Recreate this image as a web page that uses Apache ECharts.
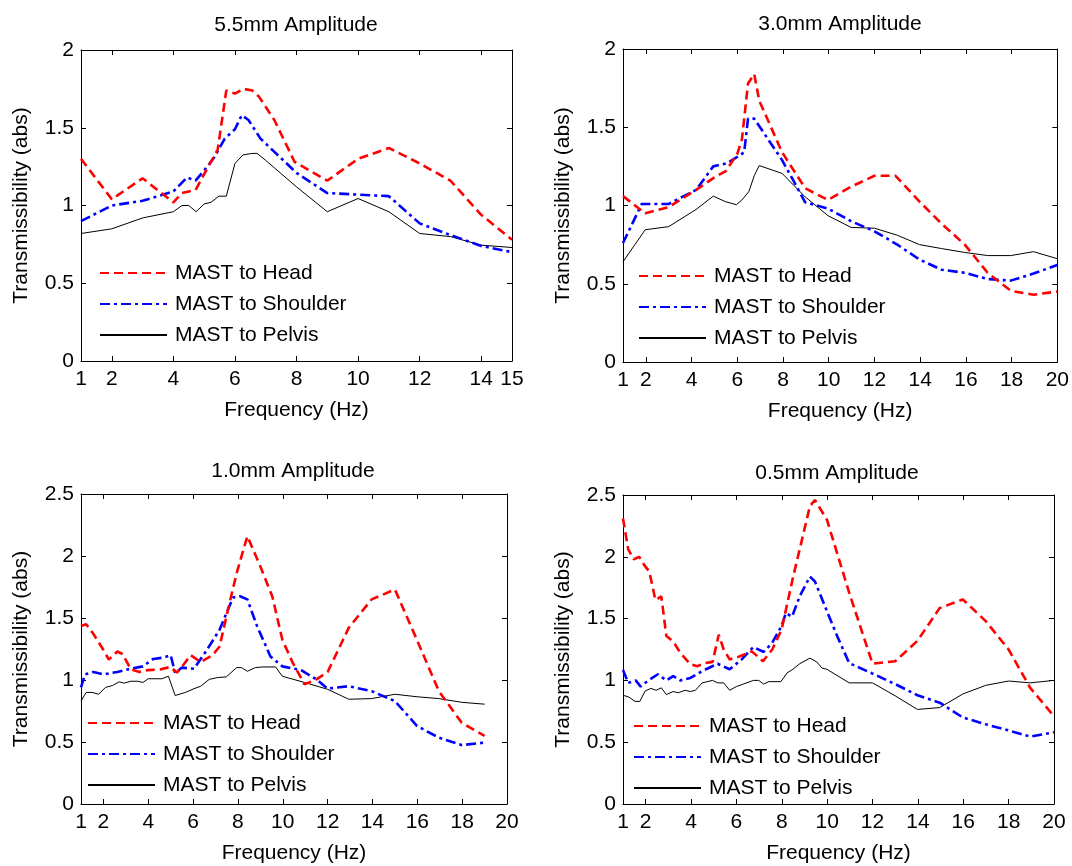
<!DOCTYPE html>
<html><head><meta charset="utf-8">
<script src="https://cdn.jsdelivr.net/npm/echarts@6/dist/echarts.min.js"></script>
<style>html,body{margin:0;padding:0;background:#fff}#c{width:1072px;height:866px}</style>
</head><body><div id="c"></div>
<script>
const seriesNames = ['MAST to Head', 'MAST to Shoulder', 'MAST to Pelvis'];
const panelTitles = ['5.5mm Amplitude', '3.0mm Amplitude', '1.0mm Amplitude', '0.5mm Amplitude'];
const xAxisName = 'Frequency (Hz)';
const yAxisName = 'Transmissibility (abs)';
const xTicks15 = [1, 2, 4, 6, 8, 10, 12, 14, 15];
const xTicks20 = [1, 2, 4, 6, 8, 10, 12, 14, 16, 18, 20];
const xMax = [15, 20, 20, 20];
const yMax = [2, 2, 2.5, 2.5];

// 5.5 mm amplitude  [frequency Hz, transmissibility]
const head55 = [[1,1.30],[2,1.04],[3,1.175],[4,1.02],[4.28,1.08],[4.72,1.10],[5.44,1.36],[5.72,1.74],[6,1.72],[6.28,1.75],[6.56,1.74],[6.78,1.70],[7.28,1.55],[7.94,1.28],[9,1.16],[10,1.30],[11,1.37],[12,1.27],[13,1.16],[14,0.94],[15,0.78]];
const shoulder55 = [[1,0.90],[2,1.00],[3,1.03],[4,1.09],[4.44,1.18],[4.72,1.16],[5.06,1.24],[5.33,1.31],[5.67,1.43],[6,1.49],[6.22,1.58],[6.44,1.55],[6.83,1.43],[8,1.21],[9,1.08],[10,1.07],[11,1.06],[12,0.885],[13,0.81],[14,0.74],[15,0.70]];
const pelvis55 = [[1,0.82],[2,0.85],[3,0.92],[4,0.96],[4.28,1.00],[4.5,1.00],[4.74,0.96],[5,1.01],[5.22,1.02],[5.48,1.06],[5.72,1.06],[6,1.27],[6.26,1.325],[6.56,1.335],[6.72,1.335],[7,1.29],[8,1.12],[9,0.96],[10,1.045],[11,0.96],[12,0.82],[13,0.80],[14,0.745],[15,0.73]];

// 3.0 mm amplitude
const head30 = [[1,1.06],[1.97,0.95],[3,0.99],[4.2,1.10],[5,1.18],[5.5,1.22],[6,1.33],[6.2,1.42],[6.47,1.78],[6.74,1.84],[6.96,1.67],[7.96,1.34],[8.97,1.11],[9.97,1.035],[10.98,1.12],[12,1.19],[12.92,1.19],[13.97,1.025],[14.93,0.885],[15.95,0.75],[16.95,0.57],[17.96,0.455],[18.96,0.43],[20,0.45]];
const shoulder30 = [[1,0.76],[1.82,1.01],[3,1.01],[4.2,1.10],[4.95,1.25],[5.55,1.27],[6,1.31],[6.3,1.34],[6.47,1.555],[6.74,1.555],[7.96,1.29],[8.45,1.16],[8.97,1.02],[9.97,0.98],[10.98,0.90],[12,0.835],[13,0.75],[13.97,0.655],[14.93,0.59],[15.95,0.57],[16.95,0.53],[17.96,0.52],[18.96,0.565],[20,0.62]];
const pelvis30 = [[1,0.64],[1.52,0.75],[1.97,0.845],[3,0.865],[4.2,0.975],[4.95,1.06],[5.47,1.025],[5.96,1.005],[6.2,1.035],[6.51,1.09],[6.74,1.19],[6.96,1.255],[7.96,1.205],[8.97,1.055],[9.97,0.935],[10.98,0.86],[12,0.855],[13,0.81],[13.97,0.75],[14.93,0.725],[15.95,0.70],[16.95,0.68],[17.96,0.68],[18.96,0.705],[20,0.66]];

// 1.0 mm amplitude
const head10 = [[1,1.435],[1.23,1.45],[1.56,1.37],[1.94,1.26],[2.24,1.165],[2.62,1.23],[2.85,1.21],[3.23,1.085],[3.61,1.065],[4,1.08],[4.52,1.085],[4.98,1.105],[5.28,1.06],[5.58,1.125],[5.89,1.20],[6.34,1.145],[6.87,1.20],[7.18,1.27],[7.56,1.57],[7.94,1.86],[8.42,2.16],[9,1.915],[9.53,1.675],[9.98,1.325],[10.44,1.14],[10.97,0.965],[11.5,1.005],[12,1.065],[12.94,1.42],[13.96,1.65],[15,1.73],[15.98,1.325],[16.96,0.91],[17.98,0.655],[19,0.55]];
const shoulder10 = [[1,0.94],[1.18,1.045],[1.56,1.065],[2.02,1.045],[2.62,1.065],[3.08,1.085],[3.76,1.11],[4.22,1.17],[4.67,1.18],[5,1.20],[5.2,1.055],[5.5,1.10],[6.04,1.09],[6.57,1.23],[7.18,1.405],[7.78,1.665],[8.09,1.675],[8.42,1.65],[8.85,1.435],[9.45,1.19],[9.98,1.11],[10.82,1.08],[11.5,1.005],[12,0.93],[12.94,0.95],[13.96,0.91],[15,0.83],[15.98,0.63],[16.96,0.535],[17.98,0.475],[19,0.495]];
const pelvis10 = [[1,0.83],[1.23,0.90],[1.49,0.90],[1.79,0.885],[2.09,0.94],[2.4,0.955],[2.7,0.985],[2.93,0.975],[3.23,0.99],[3.53,0.99],[3.76,0.98],[4,1.01],[4.6,1.01],[4.9,1.03],[5.2,0.875],[5.66,0.90],[6.04,0.93],[6.34,0.95],[6.72,1.005],[7.1,1.02],[7.48,1.025],[7.94,1.10],[8.16,1.10],[8.42,1.07],[8.77,1.10],[9.07,1.105],[9.68,1.105],[9.98,1.03],[10.97,0.98],[12,0.925],[12.94,0.845],[13.96,0.85],[15,0.885],[15.98,0.865],[16.96,0.85],[17.98,0.82],[19,0.805]];

// 0.5 mm amplitude
const head05 = [[1,2.31],[1.23,2.06],[1.48,1.98],[1.71,2.0],[1.93,1.935],[2.16,1.88],[2.43,1.65],[2.69,1.68],[2.91,1.36],[3.21,1.315],[3.52,1.225],[3.97,1.13],[4.27,1.115],[4.64,1.14],[4.95,1.15],[5.22,1.37],[5.44,1.25],[5.7,1.17],[6.08,1.19],[6.68,1.235],[7.17,1.155],[7.58,1.25],[7.99,1.41],[8.49,1.83],[9.24,2.41],[9.46,2.46],[9.99,2.30],[10.97,1.71],[12,1.135],[13,1.155],[13.98,1.32],[14.96,1.585],[15.98,1.655],[16.99,1.48],[18,1.25],[18.95,0.94],[20,0.71]];
const shoulder05 = [[1,1.085],[1.23,0.98],[1.56,1.0],[1.78,0.95],[2.08,0.995],[2.54,1.05],[2.91,1.0],[3.21,1.035],[3.52,1.0],[3.97,1.02],[4.49,1.075],[5.17,1.135],[5.7,1.09],[6.23,1.17],[6.75,1.27],[7.2,1.23],[7.58,1.305],[7.99,1.44],[8.18,1.545],[8.45,1.515],[8.79,1.68],[9.24,1.84],[9.46,1.80],[9.99,1.56],[10.44,1.36],[10.97,1.14],[12,1.055],[13,0.97],[13.98,0.88],[14.96,0.82],[15.98,0.70],[16.99,0.645],[18,0.595],[18.95,0.545],[20,0.58]];
const pelvis05 = [[1,0.88],[1.26,0.865],[1.53,0.83],[1.74,0.83],[1.98,0.915],[2.23,0.935],[2.46,0.92],[2.69,0.94],[2.91,0.885],[3.21,0.91],[3.44,0.90],[3.74,0.92],[3.97,0.91],[4.19,0.92],[4.49,0.98],[4.95,1.0],[5.17,0.98],[5.44,0.98],[5.7,0.92],[6,0.95],[6.3,0.97],[6.75,1.0],[6.98,1.0],[7.2,0.97],[7.43,0.99],[7.96,0.99],[8.23,1.06],[8.49,1.09],[8.79,1.135],[9.24,1.18],[9.54,1.15],[9.77,1.10],[9.99,1.09],[10.97,0.98],[12,0.98],[13,0.875],[13.98,0.765],[14.96,0.78],[15.98,0.89],[16.99,0.96],[18,0.995],[18.95,0.98],[20,1.0]];

const panelData = [
  [head55, shoulder55, pelvis55],
  [head30, shoulder30, pelvis30],
  [head10, shoulder10, pelvis10],
  [head05, shoulder05, pelvis05]
];
const panelTicks = [xTicks15, xTicks20, xTicks20, xTicks20];

// ---- layout & style (not data) ----
const FONT = 'Arial, "Liberation Sans", sans-serif';
const FS = 21;
const grids = [
  {left: 81, top: 50, width: 431, height: 311},
  {left: 623, top: 49, width: 436, height: 313},
  {left: 81, top: 494, width: 426, height: 310},
  {left: 623, top: 495, width: 431, height: 309}
];
const titlePos = [[296, 25], [840, 24], [293, 471], [837, 473]];
const legendPos = [[99, 262], [638, 265], [87, 712], [633, 715]];
const lineStyles = [
  {color: '#ff0000', width: 2.6, type: [9, 5]},
  {color: '#0000ff', width: 2.6, type: [10, 4, 3, 4]},
  {color: '#000000', width: 1, type: 'solid'}
];

const option = {
  animation: false,
  backgroundColor: '#ffffff',
  textStyle: {fontFamily: FONT, color: '#000'},
  grid: grids.map(g => Object.assign({containLabel: false}, g)),
  title: panelTitles.map((t, i) => ({
    text: t, left: titlePos[i][0], top: titlePos[i][1], padding: 0,
    textAlign: 'center', textVerticalAlign: 'middle',
    textStyle: {fontFamily: FONT, fontSize: FS, fontWeight: 'normal', color: '#000'}
  })),
  legend: legendPos.map((p, i) => ({
    data: seriesNames, orient: 'vertical', left: p[0], top: p[1], padding: 0,
    itemWidth: 67, itemHeight: 14, itemGap: 9, selectedMode: false,
    itemStyle: {opacity: 0, borderWidth: 0},
    textStyle: {fontFamily: FONT, fontSize: FS, color: '#000', lineHeight: 22, padding: [0, 0, 0, 3]}
  })),
  xAxis: [],
  yAxis: [],
  series: []
};

for (let i = 0; i < 4; i++) {
  const ticks = panelTicks[i];
  const common = {
    type: 'value', gridIndex: i, min: 1, max: xMax[i],
    axisLine: {show: true, onZero: false, lineStyle: {color: '#000', width: 1}},
    splitLine: {show: false}
  };
  option.xAxis.push(Object.assign({}, common, {
    position: 'bottom',
    name: xAxisName, nameLocation: 'middle', nameGap: 39,
    nameTextStyle: {fontFamily: FONT, fontSize: FS, color: '#000'},
    axisTick: {show: true, inside: true, length: 5, customValues: ticks, lineStyle: {color: '#000'}},
    axisLabel: {show: true, margin: 8, fontFamily: FONT, fontSize: FS, color: '#000', customValues: ticks, hideOverlap: false}
  }));
  option.xAxis.push(Object.assign({}, common, {
    position: 'top',
    axisTick: {show: true, inside: true, length: 5, customValues: ticks, lineStyle: {color: '#000'}},
    axisLabel: {show: false}
  }));
  const ycommon = {
    type: 'value', gridIndex: i, min: 0, max: yMax[i], interval: 0.5,
    axisLine: {show: true, onZero: false, lineStyle: {color: '#000', width: 1}},
    splitLine: {show: false}
  };
  option.yAxis.push(Object.assign({}, ycommon, {
    position: 'left',
    name: yAxisName, nameLocation: 'middle', nameGap: 49,
    nameTextStyle: {fontFamily: FONT, fontSize: FS, color: '#000'},
    axisTick: {show: true, inside: true, length: 5, lineStyle: {color: '#000'}},
    axisLabel: {show: true, margin: 7, fontFamily: FONT, fontSize: FS, color: '#000',
      formatter: v => String(v)}
  }));
  option.yAxis.push(Object.assign({}, ycommon, {
    position: 'right',
    axisTick: {show: true, inside: true, length: 5, lineStyle: {color: '#000'}},
    axisLabel: {show: false}
  }));
  for (let s = 0; s < 3; s++) {
    option.series.push({
      type: 'line', name: seriesNames[s],
      xAxisIndex: 2 * i, yAxisIndex: 2 * i,
      data: panelData[i][s],
      symbol: 'none', showSymbol: false, smooth: false,
      lineStyle: lineStyles[s],
      itemStyle: {color: lineStyles[s].color},
      emphasis: {disabled: true},
      z: 3 - s
    });
  }
}

const chart = echarts.init(document.getElementById('c'), null, {renderer: 'canvas'});
chart.setOption(option);
</script>
</body></html>
